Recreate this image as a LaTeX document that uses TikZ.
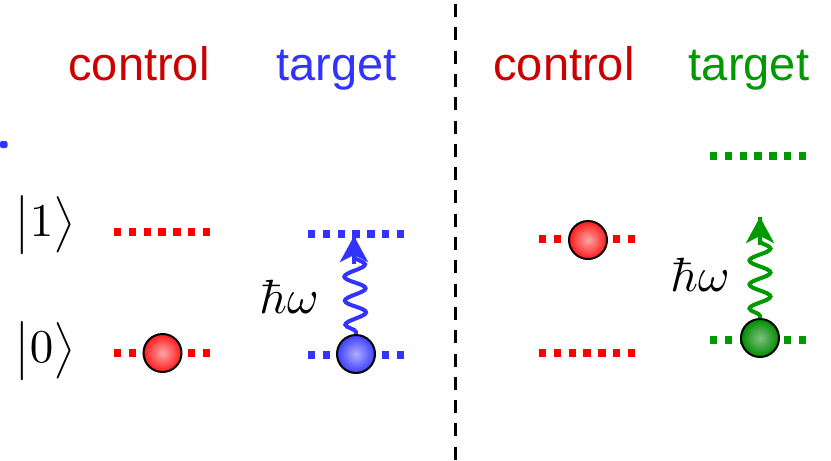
\documentclass[tikz,border=0pt]{standalone}
\usepackage[no-math]{fontspec}
\setmainfont{Liberation Sans}
\usetikzlibrary{decorations.pathmorphing,arrows.meta}
\definecolor{cred}{RGB}{204,0,0}
\definecolor{lred}{RGB}{255,0,0}
\definecolor{cblue}{RGB}{51,51,255}
\definecolor{cgreen}{RGB}{0,153,0}
\tikzset{
  lvl/.style={line width=7.3pt, dash pattern=on 7.3pt off 7.5pt},
  lbl/.style={anchor=base, font=\fontsize{47}{50}\selectfont},
  ballnode/.style 2 args={circle, draw=black, line width=2pt, minimum size=38pt, inner sep=0pt, inner color=#1, outer color=#2},
  photon/.style={line width=4pt, decorate, decoration={snake, amplitude=10.5pt, segment length=24pt, pre length=2pt, post length=20pt}},
  phtip/.style={-{Stealth[length=26pt,width=28pt,inset=7pt]}},
  mlbl/.style={scale=4.8},
  ket/.style={scale=4.7}
}
\begin{document}
\begin{tikzpicture}[x=1pt,y=-1pt]
\useasboundingbox (0,0) rectangle (831,461);
% divider
\coordinate (dtop) at (455,4);
\coordinate (dbot) at (455,461);
\draw[line width=3pt, dash pattern=on 13pt off 10.3pt] (dtop) -- (dbot);
% clipped blue mark at left edge
\fill[cblue, rounded corners=2pt] (0,141) rectangle (7.5,148);
% titles
\node[lbl, text=cred] (ctl1) at (139,80) {control};
\node[lbl, text=cblue] (tgt1) at (336.5,80) {target};
\node[lbl, text=cred] (ctl2) at (564,80) {control};
\node[lbl, text=cgreen] (tgt2) at (749,80) {target};
% kets
\node[ket] (k1) at (45,225) {$\bigl|1\bigr\rangle$};
\node[ket] (k0) at (45,351) {$\bigl|0\bigr\rangle$};
% levels left
\draw[lvl, lred] (114,232) -- (211,232);
\draw[lvl, lred] (114,353) -- (211,353);
\draw[lvl, cblue] (308,234) -- (405,234);
\draw[lvl, cblue] (308,355) -- (405,355);
% levels right
\draw[lvl, lred] (539,239) -- (636,239);
\draw[lvl, lred] (539,353) -- (636,353);
\draw[lvl, cgreen] (710,156) -- (807,156);
\draw[lvl, cgreen] (710,340) -- (807,340);
% balls
\node[ballnode={red!35!white}{red!90!white}] (b1) at (162.5,353) {};
\node[ballnode={cblue!40!white}{cblue!95!white}] (b2) at (356,354) {};
\node[ballnode={red!35!white}{red!90!white}] (b3) at (588,240) {};
\node[ballnode={green!50!black!50!white}{green!55!black}] (b4) at (760,338) {};
% photons
\coordinate (p1) at (354,236);
\coordinate (p2) at (760,217);
\draw[cblue, photon] (b2.north) -- (p1);
\draw[cblue, line width=4pt, phtip] (354,264) -- (p1);
\draw[cgreen, photon] (b4.north) -- (p2);
\draw[cgreen, line width=4pt, phtip] (760,245) -- (p2);
% hbar omega
\node[mlbl] (hw1) at (289,297) {$\hbar\omega$};
\node[mlbl] (hw2) at (700,275) {$\hbar\omega$};
\end{tikzpicture}
\end{document}
